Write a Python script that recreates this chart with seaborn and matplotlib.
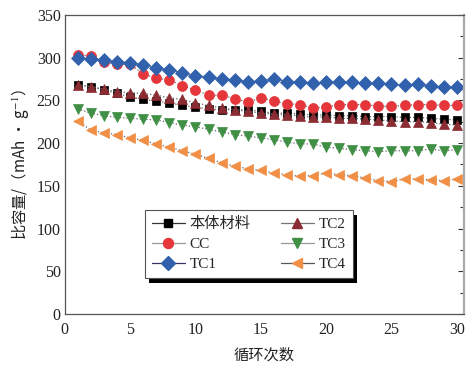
import numpy as np
import pandas as pd
import matplotlib
matplotlib.use("Agg")
import matplotlib.pyplot as plt
from matplotlib.lines import Line2D
from matplotlib.patches import Rectangle
from matplotlib.transforms import IdentityTransform
from matplotlib.ticker import MultipleLocator
import seaborn as sns

cycles = list(range(1, 31))
bulk = [268, 266, 262, 258, 254, 251, 249, 247, 244, 242, 240, 239, 239, 239, 237,
        235, 235, 234, 233, 233, 232, 232, 231, 231, 231, 230, 230, 229, 228, 227]
cc = [303, 302, 295, 292, 292, 281, 276, 274, 267, 262, 256, 256, 252, 248, 253,
      249, 246, 245, 241, 242, 245, 245, 245, 243, 243, 244, 245, 245, 244, 244]
tc1 = [300, 298, 297, 295, 294, 291, 288, 286, 282, 279, 277, 275, 274, 272, 273,
       275, 272, 272, 270, 272, 272, 271, 270, 270, 269, 268, 269, 267, 266, 266]
tc2 = [268, 266, 263, 260, 259, 258, 256, 253, 251, 247, 244, 241, 239, 237, 235,
       234, 233, 232, 230, 231, 229, 229, 228, 227, 226, 225, 225, 224, 222, 221]
tc3 = [240, 235, 232, 230, 229, 228, 227, 224, 221, 219, 216, 213, 210, 208, 206,
       204, 201, 199, 199, 195, 194, 192, 191, 190, 191, 191, 191, 193, 191, 192]
tc4 = [226, 215, 212, 210, 206, 203, 199, 195, 191, 187, 182, 177, 173, 170, 168,
       165, 163, 161, 162, 165, 163, 162, 159, 156, 155, 158, 158, 157, 156, 158]

names = ["本体材料", "CC", "TC1", "TC2", "TC3", "TC4"]
series = [bulk, cc, tc1, tc2, tc3, tc4]
colors = ["#000000", "#e5363b", "#3160ad", "#8a2c32", "#3f8f45", "#f08f45"]
markers = ["s", "o", "D", "^", "v", "<"]
msizes = [6.2, 7.2, 6.8, 7.2, 7.2, 7.2]
legline = ["#333333", "#999999", "#333366", "#777777", "#999999", "#555555"]

sns.set_theme(style="white")
plt.rcParams["font.family"] = ["Liberation Serif", "Noto Sans CJK SC", "DejaVu Sans"]
plt.rcParams["mathtext.fontset"] = "stix"

fig = plt.figure(figsize=(4.73, 3.72), dpi=100)
ax = fig.add_axes([0.137, 0.156, 0.844, 0.804])

for name, vals, c, m, ms in zip(names, series, colors, markers, msizes):
    sns.lineplot(x=cycles, y=vals, ax=ax, color="#666666", linestyle=":",
                 linewidth=0.9, marker=m, markersize=ms, markerfacecolor=c,
                 markeredgecolor=c, markeredgewidth=0.5, legend=False)

ax.set_xlim(0, 30.55)
ax.set_ylim(0, 350)
ax.xaxis.set_major_locator(MultipleLocator(5))
ax.xaxis.set_minor_locator(MultipleLocator(2.5))
ax.yaxis.set_major_locator(MultipleLocator(50))
ax.yaxis.set_minor_locator(MultipleLocator(25))
ax.tick_params(axis="both", which="both", direction="in", labelsize=11.5,
               colors="#333333", labelcolor="#222222")
ax.tick_params(which="major", length=4, width=0.8)
ax.tick_params(which="minor", length=3, width=0.8)
ax.tick_params(axis="y", which="both", right=True)
ax.tick_params(axis="x", which="both", top=False, pad=6)
ax.tick_params(axis="y", which="both", pad=3)
for s in ["left", "bottom", "top"]:
    ax.spines[s].set_color("#555555")
    ax.spines[s].set_linewidth(0.9)
ax.spines["right"].set_color("#aaaaaa")
ax.spines["right"].set_linewidth(1.6)

ax.set_xlabel("循环次数", fontsize=11, family=["Noto Sans CJK SC", "DejaVu Sans"],
              labelpad=6, color="#222222")
ax.set_ylabel("比容量/（mAh • g$^{-1}$）", fontsize=11,
              family=["Noto Sans CJK SC", "DejaVu Sans"], labelpad=4, color="#222222")

handles = [Line2D([0], [0], color=lc, linewidth=0.9, marker=m, markersize=ms,
                  markerfacecolor=c, markeredgecolor=c)
           for c, m, ms, lc in zip(colors, markers, msizes, legline)]
leg = ax.legend(handles, names, ncol=2, loc="upper left",
                bbox_to_anchor=(0.20, 0.346),
                borderaxespad=0, fancybox=False, shadow=False,
                frameon=True, handlelength=2.2, handletextpad=0.3,
                borderpad=0.45, labelspacing=0.4, columnspacing=1.95,
                prop={"family": ["Liberation Serif", "Noto Sans CJK SC"], "size": 11})
leg.get_frame().set_edgecolor("#555555")
leg.get_frame().set_linewidth(0.8)
leg.get_frame().set_alpha(1)
leg.set_zorder(6)

fig.canvas.draw()
bb = leg.get_window_extent()
shadow = Rectangle((bb.x0 + 4, bb.y0 - 5), bb.width, bb.height,
                   transform=IdentityTransform(), facecolor="black",
                   edgecolor="none", zorder=5.5, clip_on=False)
ax.add_patch(shadow)

fig.savefig("out.png", dpi=100)
